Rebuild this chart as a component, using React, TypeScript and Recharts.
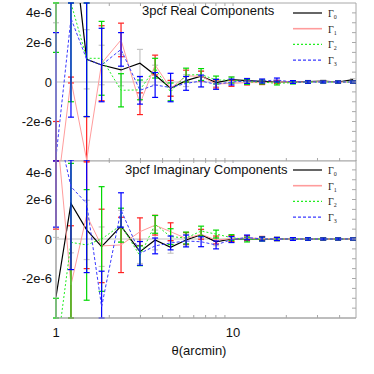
import { LineChart, Line, XAxis, YAxis, ErrorBar, ReferenceLine, ReferenceArea } from "recharts";

// bin centres, arcmin
const theta = [1.0, 1.215, 1.49, 1.81, 2.33, 2.98, 3.63, 4.44, 5.43, 6.6, 8.02, 9.8, 12.0, 14.6, 17.7, 21.8, 26.5, 32.3, 39.2, 47.6];

// real part, in units of 1e-6
const realG0 = [6, 8.1, 1.15, 0.86, 0.61, 0.95, 0.35, -0.32, 0.07, 0.3, -0.03, 0.12, 0.07, 0.03, 0.0, 0.0, 0.02, 0.05, 0.0, 0.12];
const realG0Err = [3, 3, 1.5, 1.0, 0.8, 0.7, 0.5, 0.4, 0.3, 0.25, 0.2, 0.15, 0.12, 0.1, 0.08, 0.07, 0.06, 0.05, 0.05, 0.05];
const realG1 = [-6, 0.1, -3.95, 0.95, 2.13, -1.1, 0.86, -0.32, 0.3, 0.3, -0.1, -0.07, -0.03, -0.03, 0.0, 0.0, 0.0, 0.02, 0.0, 0.0];
const realG1Err = [4, 0.15, 2.2, 1.9, 0.85, 0.55, 0.5, 0.4, 0.3, 0.25, 0.2, 0.15, 0.12, 0.1, 0.08, 0.07, 0.06, 0.05, 0.05, 0.05];
const realG2 = [4.2, 4.0, 1.2, 1.2, -0.42, -0.4, 0.7, -0.5, 0.35, 0.38, 0.1, 0.1, 0.0, 0.0, -0.07, -0.03, 0.0, 0.0, 0.0, 0.0];
const realG2Err = [2.7, 5, 2.95, 1.87, 0.84, 0.5, 0.5, 0.45, 0.35, 0.3, 0.2, 0.15, 0.12, 0.1, 0.08, 0.07, 0.06, 0.05, 0.05, 0.05];
const realG3 = [-3.8, 3.22, 1.15, 0.86, 1.65, -0.42, -0.15, -0.28, -0.07, 0.05, -0.12, 0.0, 0.05, 0.05, 0.1, 0.0, 0.0, 0.0, 0.0, 0.0];
const realG3Err = [6.3, 5, 2.9, 1.86, 0.85, 0.7, 0.63, 0.72, 0.35, 0.3, 0.25, 0.15, 0.12, 0.1, 0.1, 0.07, 0.06, 0.05, 0.05, 0.05];

// imaginary part, in units of 1e-6
const imagG0 = [-2.92, 1.8, 0.46, -0.39, 0.65, -0.64, -0.05, -0.42, -0.05, 0.22, -0.14, 0.0, 0.0, 0.0, 0.0, 0.0, 0.0, 0.0, 0.0, 0.0];
const imagG0Err = [3, 2.5, 1.5, 1.0, 0.8, 0.6, 0.5, 0.3, 0.3, 0.25, 0.2, 0.15, 0.12, 0.1, 0.08, 0.07, 0.06, 0.05, 0.05, 0.05];
const imagG1 = [6, -2.33, 1.2, -0.35, -0.3, 0.37, 0.7, 0.37, 0.03, 0.24, -0.05, 0.02, 0.05, 0.03, 0.0, 0.0, 0.0, 0.0, 0.0, 0.0];
const imagG1Err = [5.5, 3, 2.7, 1.86, 1.4, 0.7, 0.5, 0.45, 0.3, 0.25, 0.2, 0.15, 0.12, 0.1, 0.08, 0.07, 0.06, 0.05, 0.05, 0.05];
const imagG2 = [-6, -0.17, -0.3, 0.0, 0.7, -0.85, 0.74, 0.12, 0.05, 0.4, 0.25, 0.07, -0.03, 0.0, 0.0, 0.0, 0.0, 0.0, 0.0, 0.0];
const imagG2Err = [3, 4, 2.8, 2.65, 0.86, 0.5, 0.45, 0.4, 0.3, 0.25, 0.2, 0.15, 0.12, 0.1, 0.08, 0.07, 0.06, 0.05, 0.05, 0.05];
const imagG3 = [6, 2.65, 1.8, -3.43, 1.47, -0.73, -0.35, -0.2, -0.1, -0.14, -0.3, -0.03, 0.08, 0.0, 0.0, 0.0, 0.0, 0.0, 0.0, 0.0];
const imagG3Err = [5.4, 4.2, 3.5, 1.8, 0.87, 0.6, 0.4, 0.35, 0.3, 0.25, 0.2, 0.15, 0.12, 0.1, 0.08, 0.07, 0.06, 0.05, 0.05, 0.05];

const yTicks = [-2, 0, 2, 4];
const yMinorTicks = [-3.5, -3, -2.5, -2, -1.5, -1, -0.5, 0, 0.5, 1, 1.5, 2, 2.5, 3, 3.5];
const xTicks = [1, 10];
const xMinorTicks = [2, 3, 4, 5, 6, 7, 8, 9, 20, 30, 40];
const X_DOMAIN = [1, 49.5];
const Y_DOMAIN = [-4, 4];

const FONT = '"Liberation Sans", Arial, Helvetica, sans-serif';
const FRAME = "#a8a8a8";

const series = [
  { key: "g0", label: "0", line: "#000000", bar: "#c4c4c4", dash: undefined, width: 1.2 },
  { key: "g1", label: "1", line: "#ff9c9c", bar: "#ff2020", dash: undefined, width: 1 },
  { key: "g2", label: "2", line: "#22ee22", bar: "#00d800", dash: "2 2", width: 1 },
  { key: "g3", label: "3", line: "#3a3aff", bar: "#0000ff", dash: "3 2", width: 1 },
];

// error bars are not clipped by recharts, so keep each bar inside the y domain
function clippedErr(v: number, e: number) {
  const lo = Math.max(v - e, Y_DOMAIN[0]);
  const hi = Math.min(v + e, Y_DOMAIN[1]);
  if (lo >= hi) return null;
  return [v - lo, hi - v];
}

function buildRows(vals: number[][], errs: number[][]) {
  return theta.map((t, i) => {
    const row: any = { theta: t };
    series.forEach((s, k) => {
      row[s.key] = vals[k][i];
      row[s.key + "e"] = clippedErr(vals[k][i], errs[k][i]);
    });
    return row;
  });
}

const realRows = buildRows([realG0, realG1, realG2, realG3], [realG0Err, realG1Err, realG2Err, realG3Err]);
const imagRows = buildRows([imagG0, imagG1, imagG2, imagG3], [imagG0Err, imagG1Err, imagG2Err, imagG3Err]);

function fmtY(v: number) {
  return v === 0 ? "0" : `${v}e-6`;
}

function YTick(props: any) {
  const { x, y, payload } = props;
  // top label is pushed down so it stays inside its panel
  const shift = payload.value === 4 ? 3 : 0;
  return (
    <text x={x} y={y + shift} dy="0.355em" textAnchor="end" fontSize={13} fontFamily={FONT} fill="#111">
      {fmtY(payload.value)}
    </text>
  );
}

function GammaLegend({ top }: { top: number }) {
  return (
    <svg width={80} height={70} style={{ position: "absolute", left: 290, top }}>
      {series.map((s, i) => (
        <g key={s.key}>
          <line x1={3} x2={32} y1={6 + i * 15.7} y2={6 + i * 15.7} stroke={s.line} strokeWidth={s.key === "g1" ? 1.6 : 1.2} strokeDasharray={s.dash} />
          <text x={38} y={10 + i * 15.7} fontSize={10} fontFamily='"Liberation Serif", "Times New Roman", serif' fill="#222">
            Γ<tspan fontSize={6} dy={2}>{s.label}</tspan>
          </text>
        </g>
      ))}
    </svg>
  );
}

function Panel({ rows, title, titleLeft, titleTop, legendTop, top, bottomAxis }: { rows: any[]; title: string; titleLeft: number; titleTop: number; legendTop: number; top: number; bottomAxis: boolean }) {
  const height = bottomAxis ? 214 : 163;
  const margin = bottomAxis ? { top: 0, right: 18, bottom: 14, left: 0 } : { top: 3, right: 18, bottom: 2, left: 0 };
  return (
    <div style={{ position: "absolute", left: 0, top, width: 374, height }}>
      <LineChart width={374} height={height} data={rows} margin={margin}>
        <XAxis
          xAxisId="main"
          dataKey="theta"
          type="number"
          scale="log"
          domain={X_DOMAIN}
          allowDataOverflow
          ticks={xTicks}
          hide={!bottomAxis}
          height={42}
          tickLine={false}
          axisLine={{ stroke: FRAME }}
          tickSize={6}
          tickMargin={4}
          tick={{ fontSize: 13, fontFamily: FONT, fill: "#111" }}
          label={bottomAxis ? { value: "θ(arcmin)", position: "insideBottom", offset: 5, dx: -7, fontSize: 13, fontFamily: FONT, fill: "#111" } : undefined}
        />
        <XAxis
          xAxisId="minor"
          dataKey="theta"
          type="number"
          scale="log"
          domain={X_DOMAIN}
          allowDataOverflow
          ticks={xMinorTicks}
          mirror
          axisLine={false}
          tickSize={3}
          tickLine={{ stroke: FRAME }}
          tickFormatter={() => ""}
        />
        <XAxis
          xAxisId="top"
          orientation="top"
          dataKey="theta"
          type="number"
          scale="log"
          domain={X_DOMAIN}
          allowDataOverflow
          ticks={[...xMinorTicks, 10]}
          mirror
          axisLine={false}
          tickSize={3}
          tickLine={{ stroke: FRAME }}
          tickFormatter={() => ""}
        />
        <YAxis
          yAxisId="main"
          type="number"
          domain={Y_DOMAIN}
          allowDataOverflow
          ticks={yTicks}
          width={56}
          tickLine={false}
          tickSize={0}
          tickMargin={4}
          axisLine={{ stroke: FRAME }}
          tick={<YTick />}
        />
        <YAxis
          yAxisId="right"
          orientation="right"
          type="number"
          domain={Y_DOMAIN}
          allowDataOverflow
          ticks={yMinorTicks}
          mirror
          axisLine={false}
          tickSize={4}
          tickLine={{ stroke: FRAME }}
          tickFormatter={() => ""}
        />
        <ReferenceArea xAxisId="main" yAxisId="main" x1={X_DOMAIN[0]} x2={X_DOMAIN[1]} y1={Y_DOMAIN[0]} y2={Y_DOMAIN[1]} fill="none" stroke={FRAME} strokeWidth={1} />
        <ReferenceLine xAxisId="main" yAxisId="main" y={0} stroke="#c0c0c0" strokeWidth={1} />
        {series.map((s) => (
          <Line
            key={s.key}
            xAxisId="main"
            yAxisId="main"
            dataKey={s.key}
            type="linear"
            stroke={s.line}
            strokeWidth={s.width}
            strokeDasharray={s.dash}
            dot={false}
            activeDot={false}
            isAnimationActive={false}
          >
            <ErrorBar dataKey={s.key + "e"} direction="y" width={3} stroke={s.bar} strokeWidth={1.2} />
          </Line>
        ))}
      </LineChart>
      <div style={{ position: "absolute", left: titleLeft, top: titleTop, fontFamily: FONT, fontSize: 13, lineHeight: "16px", color: "#111", whiteSpace: "nowrap" }}>{title}</div>
      <GammaLegend top={legendTop} />
    </div>
  );
}

export default function App() {
  return (
    <div style={{ position: "absolute", left: 0, top: 0, width: 374, height: 374, background: "#fff" }}>
      <Panel rows={realRows} title="3pcf Real Components" titleLeft={142} titleTop={3} legendTop={7} top={0} bottomAxis={false} />
      <Panel rows={imagRows} title="3pcf Imaginary Components" titleLeft={125} titleTop={2} legendTop={4} top={160} bottomAxis />
    </div>
  );
}
